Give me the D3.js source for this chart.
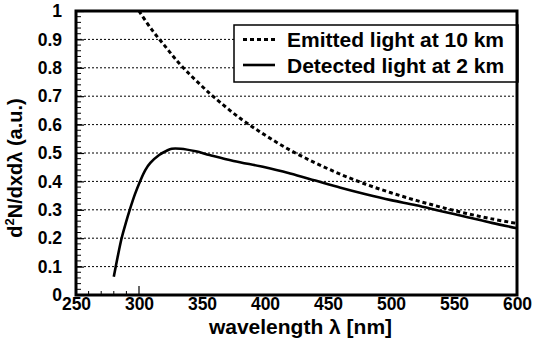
<!DOCTYPE html>
<html>
<head>
<meta charset="utf-8">
<script src="https://cdn.jsdelivr.net/npm/d3@7"></script>
<style>
  body { margin: 0; background: #fff; }
  text { font-family: "Liberation Sans", Arial, sans-serif; font-weight: bold; fill: #000; }
</style>
</head>
<body>
<div id="chart"></div>
<script>
// emitted light at 10 km (dotted)
const emitLambda = [300, 310, 320, 330, 340, 350, 360, 380, 400, 420, 440, 460, 480, 500, 520, 540, 560, 580, 600];
const emitValue  = [1.0, 0.935, 0.88, 0.825, 0.778, 0.735, 0.695, 0.623, 0.563, 0.51, 0.465, 0.425, 0.39, 0.36, 0.333, 0.309, 0.287, 0.268, 0.252];

// detected light at 2 km (solid)
const detLambda = [280, 283, 286.2, 289.5, 292.9, 296.8, 300.8, 305, 309, 316, 322, 326, 333, 345, 356, 375, 400, 420, 440, 460, 480, 500, 520, 540, 560, 580, 600];
const detValue  = [0.064, 0.133, 0.20, 0.253, 0.303, 0.355, 0.40, 0.44, 0.465, 0.493, 0.508, 0.515, 0.515, 0.506, 0.493, 0.472, 0.45, 0.428, 0.403, 0.378, 0.355, 0.334, 0.316, 0.295, 0.275, 0.254, 0.235];

const yTicks = [0, 0.1, 0.2, 0.3, 0.4, 0.5, 0.6, 0.7, 0.8, 0.9, 1];
const yMinorTicks = d3.range(0, 1.001, 0.02);
const xTicks = [250, 300, 350, 400, 450, 500, 550, 600];
const xMinorTicks = [260, 270, 280, 290];

const legendLabels = ["Emitted light at 10 km", "Detected light at 2 km"];

const W = 540, H = 340;
const margin = { top: 11, right: 23, bottom: 45, left: 76 };
const width = W - margin.left - margin.right;
const height = H - margin.top - margin.bottom;

const svg = d3.select("#chart").append("svg")
    .attr("width", W)
    .attr("height", H);

const g = svg.append("g")
    .attr("transform", `translate(${margin.left},${margin.top})`);

const x = d3.scaleLinear().domain([250, 600]).range([0, width]);
const y = d3.scaleLinear().domain([0, 1]).range([height, 0]);

// grid lines
g.selectAll(".grid")
    .data(yTicks.filter(d => d > 0 && d < 1))
    .join("line")
    .attr("class", "grid")
    .attr("x1", 0).attr("x2", width)
    .attr("y1", d => y(d)).attr("y2", d => y(d))
    .attr("stroke", "#000")
    .attr("stroke-width", 1)
    .attr("stroke-dasharray", "2,2");

// minor ticks on the left
g.selectAll(".yminor")
    .data(yMinorTicks)
    .join("line")
    .attr("x1", 0).attr("x2", 5)
    .attr("y1", d => y(d)).attr("y2", d => y(d))
    .attr("stroke", "#000").attr("stroke-width", 1);

// y axis labels + major ticks
const yAxis = d3.axisLeft(y).tickValues(yTicks).tickSizeInner(-8).tickSizeOuter(0).tickPadding(14)
    .tickFormat(d => d === 0 || d === 1 ? d3.format("d")(d) : d3.format(".1f")(d));
g.append("g").call(yAxis)
    .call(a => a.select(".domain").remove())
    .call(a => a.selectAll("line").attr("stroke", "#000").attr("stroke-width", 1.2))
    .call(a => a.selectAll("text").attr("font-size", 17.5).style("font-family", "Liberation Sans").style("font-weight", "bold"));

// x ticks (only near the start)
g.selectAll(".xminor")
    .data(xMinorTicks)
    .join("line")
    .attr("x1", d => x(d)).attr("x2", d => x(d))
    .attr("y1", height).attr("y2", height - 4)
    .attr("stroke", "#000").attr("stroke-width", 1);

const xAxis = d3.axisBottom(x).tickValues(xTicks).tickSize(0).tickPadding(3).tickFormat(d3.format("d"));
g.append("g").attr("transform", `translate(0,${height})`).call(xAxis)
    .call(a => a.select(".domain").remove())
    .call(a => a.selectAll("text").attr("font-size", 17.5).style("font-family", "Liberation Sans").style("font-weight", "bold"));

g.append("line")
    .attr("x1", x(300)).attr("x2", x(300))
    .attr("y1", height).attr("y2", height - 9)
    .attr("stroke", "#000").attr("stroke-width", 1.2);

// curves
const line = d3.line()
    .x(d => x(d[0]))
    .y(d => y(d[1]))
    .curve(d3.curveCatmullRom.alpha(0.5));

g.append("path")
    .datum(emitLambda.map((l, i) => [l, emitValue[i]]))
    .attr("d", line)
    .attr("fill", "none")
    .attr("stroke", "#000")
    .attr("stroke-width", 3)
    .attr("stroke-dasharray", "4,3");

g.append("path")
    .datum(detLambda.map((l, i) => [l, detValue[i]]))
    .attr("d", line)
    .attr("fill", "none")
    .attr("stroke", "#000")
    .attr("stroke-width", 2.6);

// legend
const leg = g.append("g").attr("transform", `translate(${234 - margin.left},${25 - margin.top})`);
leg.append("rect")
    .attr("width", 518 - 234).attr("height", 57)
    .attr("fill", "#fff")
    .attr("stroke", "#000").attr("stroke-width", 1.5);
leg.append("line")
    .attr("x1", 9).attr("x2", 41).attr("y1", 14.5).attr("y2", 14.5)
    .attr("stroke", "#000").attr("stroke-width", 3).attr("stroke-dasharray", "4,3");
leg.append("line")
    .attr("x1", 9).attr("x2", 41).attr("y1", 40).attr("y2", 40)
    .attr("stroke", "#000").attr("stroke-width", 2.6);
leg.selectAll(".legtext")
    .data(legendLabels)
    .join("text")
    .attr("x", 53)
    .attr("y", (d, i) => 21.5 + i * 26)
    .attr("font-size", 21)
    .text(d => d);

// frame
g.append("rect")
    .attr("width", width).attr("height", height)
    .attr("fill", "none")
    .attr("stroke", "#000").attr("stroke-width", 3);

// axis titles
svg.append("text")
    .attr("x", margin.left + width / 2 + 4)
    .attr("y", 334)
    .attr("text-anchor", "middle")
    .attr("font-size", 21)
    .text("wavelength λ [nm]");

const yt = svg.append("text")
    .attr("transform", `translate(22,168) rotate(-90)`)
    .attr("text-anchor", "middle")
    .attr("font-size", 20);
yt.append("tspan").text("d");
yt.append("tspan").attr("font-size", 13).attr("dy", -8).text("2");
yt.append("tspan").attr("dy", 8).text("N/dxdλ (a.u.)");
</script>
</body>
</html>
